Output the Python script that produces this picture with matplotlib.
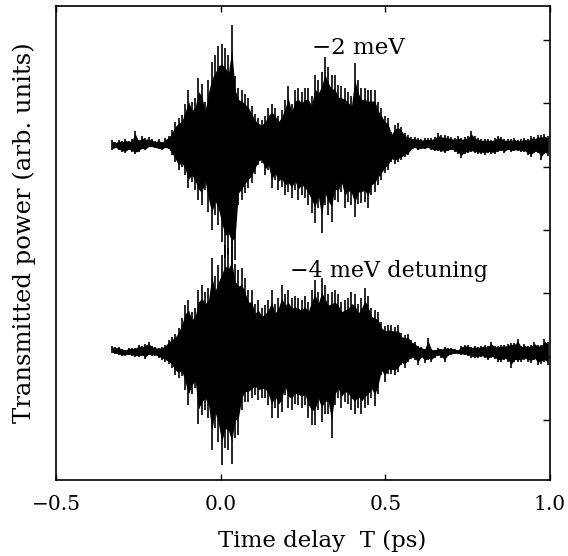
#!/usr/bin/env python

import numpy as np
import matplotlib
matplotlib.use("Agg")
import matplotlib.pyplot as plt

plt.rcParams["font.family"] = "DejaVu Serif"

hi_2mev = [340,338,340,339,341,339,341,349,340,344,342,343,341,339,341,338,342,344,350,358,
           362,365,376,390,378,382,402,396,378,400,418,425,434,436,432,425,455,404,392,390,
           386,382,374,366,362,360,364,372,376,372,364,370,380,394,376,390,392,388,392,392,
           384,405,400,408,423,413,405,405,395,394,392,388,384,417,400,392,392,390,390,390,
           378,372,364,362,
           348,355,357,353,347,345,343,343,342,341,342,342,342,343,347,345,345,344,343,342,
           344,342,343,344,349,344,342,341,341,341,340,342,344,343,341,341,341,342,340,341,
           342,341,344,343,345,345,346,344]
lo_2mev = [330,332,330,328,327,330,328,326,328,331,330,333,333,332,331,330,332,331,325,318,
           310,313,305,292,298,290,280,275,290,268,250,265,255,238,222,225,215,220,275,280,
           287,292,297,306,315,317,305,310,292,300,290,293,285,288,282,290,280,285,282,275,
           267,257,272,247,275,265,258,280,278,288,272,278,275,263,276,277,278,272,285,288,
           295,300,307,310,
           318,316,318,320,323,325,330,332,330,331,331,332,330,329,329,328,327,329,330,328,
           326,322,326,327,328,327,326,326,325,327,326,326,328,329,327,330,328,329,329,328,
           328,325,323,327,327,320,326,324]
hi_4mev = [134,133,133,131,130,132,132,132,135,134,136,138,134,133,132,133,135,140,143,146,
           152,162,175,180,168,172,190,195,188,192,222,204,215,225,235,232,240,216,210,212,
           202,190,190,176,180,172,175,180,190,176,182,195,186,190,182,184,182,180,184,178,
           190,200,188,202,195,186,188,190,186,178,180,182,188,186,176,182,192,184,172,170,
           168,158,154,155,
           155,153,155,147,145,146,140,138,134,133,131,142,131,130,132,131,133,132,132,131,
           130,134,135,135,133,134,133,134,135,134,138,134,134,135,135,136,137,137,141,134,
           136,134,135,138,135,135,141,138]
lo_4mev = [127,126,125,124,124,125,124,123,123,124,121,125,124,124,122,120,118,116,112,105,
           102,104,90,75,86,92,56,65,70,62,30,52,38,15,32,30,16,42,45,70,
           78,78,82,85,80,82,82,75,62,72,62,68,85,72,70,76,75,72,75,62,
           55,55,70,58,66,66,42,75,82,72,78,76,70,66,72,66,72,75,82,74,
           86,105,98,106,
           106,105,108,115,112,118,121,120,115,122,117,120,118,122,124,122,118,124,125,126,
           126,125,125,124,122,122,122,123,122,120,122,121,118,118,120,118,112,118,118,118,
           120,118,117,120,115,116,118,115]

delay = -0.33 + 0.0101 * np.arange(len(hi_2mev))

base_2mev = 335
base_4mev = 130

x_ticks = [-0.5, 0.0, 0.5, 1.0]
x_labels = ["\u22120.5", "0.0", "0.5", "1.0"]
y_ticks = [60, 123, 187, 250, 313, 377, 440]


def trace(ax, hi, lo, base):
    hi = np.array(hi)
    lo = np.array(lo)
    # solid core at 4/5 of the swing, single spikes out to the full edge
    ax.fill_between(delay, base + 0.8 * (lo - base), base + 0.8 * (hi - base), color="black", lw=0)
    ax.vlines(delay, lo, hi, color="black", lw=1.2)


fig = plt.figure(figsize=(5.68, 5.56), dpi=100)
ax = fig.add_axes([56 / 568, 76 / 556, 494 / 568, 474 / 556])

trace(ax, hi_2mev, lo_2mev, base_2mev)
trace(ax, hi_4mev, lo_4mev, base_4mev)

ax.set_xlim(-0.5, 1.0)
ax.set_ylim(0, 474)
ax.set_xticks(x_ticks)
ax.set_xticklabels(x_labels)
ax.set_yticks(y_ticks)
ax.tick_params(axis="x", direction="in", top=True, length=4, width=1, labelsize=14.5, pad=11)
ax.tick_params(axis="y", direction="in", left=False, right=True, labelleft=False, length=5, width=1)
for s in ax.spines.values():
    s.set_linewidth(1.2)

ax.text(0.276, 426, "\u22122 meV", fontsize=16.5)
ax.text(0.21, 203, "\u22124 meV detuning", fontsize=16)

fig.text(322 / 568, 15 / 556, "Time delay  T (ps)", fontsize=16.5, ha="center", va="center")
fig.text(24 / 568, 323 / 556, "Transmitted power (arb. units)", fontsize=17.5,
         rotation=90, ha="center", va="center")

plt.savefig("out.png", dpi=100)
